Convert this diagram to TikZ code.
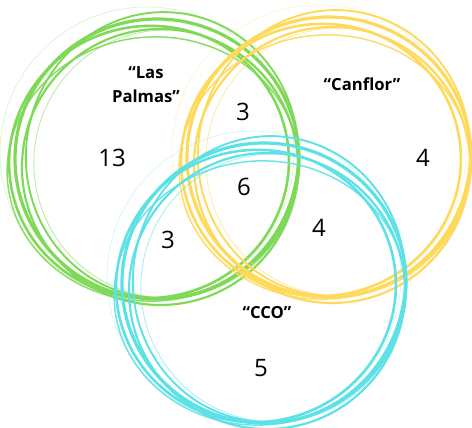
\documentclass[tikz,border=0pt]{standalone}
\usepackage{fontspec}
\setmainfont{Open Sans}
\definecolor{vgreen}{HTML}{7ED957}
\definecolor{vyellow}{HTML}{FFD95A}
\definecolor{vcyan}{HTML}{5CE1E6}
\tikzset{
  num/.style={font=\fontsize{18}{20}\selectfont, text=black},
  lab/.style={font=\bfseries\fontsize{12.5}{15}\selectfont, text=black, align=center},
}
\newcommand{\sketchring}[3]{%
  \foreach \dx/\dy/\rx/\ry/\rot/\w/\op in {0/0/142/140/0/2.4/1, -8/3/140/136/10/1.9/1, 5/-4/136/143/-8/1.4/1, -4/10/146/132/5/1.1/0.9, 9/5/132/134/15/0.6/0.55, -10/-6/147/146/-5/0.4/0.35, 3/8/138/138/0/1.6/1}{
    \draw[#1, line width=\w pt, opacity=\op] (#2+\dx,#3+\dy) ellipse [x radius=\rx, y radius=\ry, rotate=\rot];
  }%
}
\begin{document}
\begin{tikzpicture}[x=0.75pt,y=-0.75pt]
\useasboundingbox (0,0) rectangle (472,428);
\fill[white] (0,0) rectangle (472,428);
\sketchring{vgreen}{157}{159}
\sketchring{vyellow}{329}{157}
\sketchring{vcyan}{264}{283}
\node[lab] (lp) at (146,85) {“Las\\[3pt]Palmas”};
\node[lab] (cf) at (362,84) {“Canflor”};
\node[lab] (cco) at (267,313) {“CCO”};
\node[num] (n13) at (112,158) {13};
\node[num] (n3a) at (243,112) {3};
\node[num] (n4a) at (423,158) {4};
\node[num] (n6) at (244,187) {6};
\node[num] (n3b) at (168,240) {3};
\node[num] (n4b) at (319,228) {4};
\node[num] (n5) at (261,368) {5};
\end{tikzpicture}
\end{document}
